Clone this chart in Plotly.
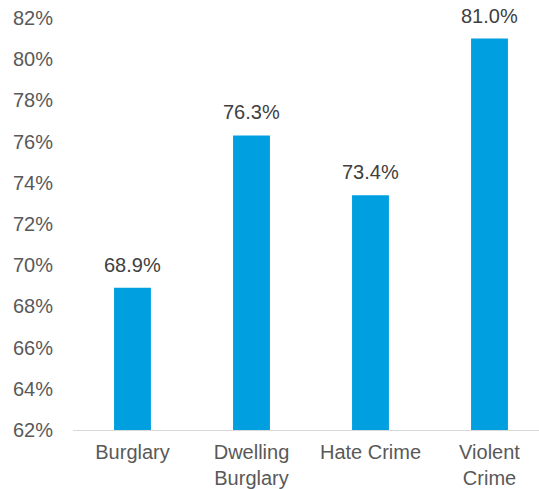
import plotly.graph_objects as go

categories = ["Burglary", "Dwelling<br>Burglary", "Hate Crime", "Violent<br>Crime"]
values = [68.9, 76.3, 73.4, 81.0]
tick_vals = [62, 64, 66, 68, 70, 72, 74, 76, 78, 80, 82]
tick_text = [f"{v}%" for v in tick_vals]
value_labels = [f"{v:.1f}%" for v in values]

FONT = "Liberation Sans, Arial, sans-serif"
xs = list(range(len(categories)))

fig = go.Figure()
fig.add_trace(go.Bar(
    x=xs,
    y=values,
    marker=dict(color="#009FE0", line=dict(width=0)),
    width=0.31,
    hoverinfo="skip",
))
for x, v, t in zip(xs, values, value_labels):
    fig.add_annotation(
        x=x, y=v, text=t, showarrow=False,
        yanchor="bottom", yshift=10,
        font=dict(family=FONT, size=20, color="#404040"),
    )

fig.update_layout(
    width=539, height=489,
    margin=dict(l=73, r=0, t=18, b=59, autoexpand=False),
    paper_bgcolor="white", plot_bgcolor="white",
    showlegend=False,
    font=dict(family=FONT, size=20, color="#595959"),
)
fig.update_xaxes(
    tickvals=xs, ticktext=categories,
    range=[-0.5, 3.416],
    showline=True, linecolor="#D9D9D9", linewidth=1,
    showgrid=False, ticks="", zeroline=False,
    ticklabelstandoff=4, automargin=False,
    tickfont=dict(size=20, color="#595959"),
)
fig.update_yaxes(
    range=[62, 82], tickvals=tick_vals, ticktext=tick_text,
    showgrid=False, zeroline=False, showline=False, ticks="",
    ticklabelstandoff=19, automargin=False,
    tickfont=dict(size=20, color="#595959"),
)
fig.write_html(
    "out.html",
    config={"displayModeBar": False},
    post_script="document.body.style.margin='0';",
)
